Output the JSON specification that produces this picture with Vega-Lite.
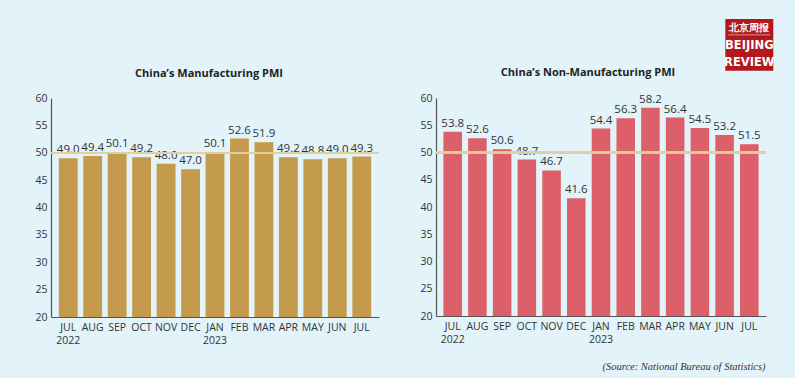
{
  "$schema": "https://vega.github.io/schema/vega-lite/v6.json",
  "background": "#e2f3fa",
  "padding": {"left": 34, "top": 18, "right": 20, "bottom": 5},
  "datasets": {
    "pmi": [
      {"label": "JUL|2022", "mfg": 49.0, "nonmfg": 53.8},
      {"label": "AUG", "mfg": 49.4, "nonmfg": 52.6},
      {"label": "SEP", "mfg": 50.1, "nonmfg": 50.6},
      {"label": "OCT", "mfg": 49.2, "nonmfg": 48.7},
      {"label": "NOV", "mfg": 48.0, "nonmfg": 46.7},
      {"label": "DEC", "mfg": 47.0, "nonmfg": 41.6},
      {"label": "JAN|2023", "mfg": 50.1, "nonmfg": 54.4},
      {"label": "FEB", "mfg": 52.6, "nonmfg": 56.3},
      {"label": "MAR", "mfg": 51.9, "nonmfg": 58.2},
      {"label": "APR", "mfg": 49.2, "nonmfg": 56.4},
      {"label": "MAY", "mfg": 48.8, "nonmfg": 54.5},
      {"label": "JUN", "mfg": 49.0, "nonmfg": 53.2},
      {"label": "JUL", "mfg": 49.3, "nonmfg": 51.5}
    ],
    "logo": [
      {"label": "JUL", "top": 74.5, "bottom": 65.0}
    ],
    "logoline": [
      {"label": "JUL", "pos": 71.6}
    ],
    "logotext": [
      {"label": "JUL", "t": "北京周报", "pos": 72.8, "kind": "cn"},
      {"label": "JUL", "t": "BEIJING", "pos": 69.8, "kind": "en"},
      {"label": "JUL", "t": "REVIEW", "pos": 66.6, "kind": "en"}
    ]
  },
  "config": {
    "view": {"stroke": null},
    "font": "Open Sans",
    "axis": {
      "labelFont": "Open Sans",
      "labelFontSize": 10.5,
      "labelColor": "#333333",
      "domainColor": "#555555",
      "domainWidth": 1.2,
      "ticks": false,
      "grid": false,
      "title": null,
      "labelOverlap": false
    },
    "axisY": {"values": [20, 25, 30, 35, 40, 45, 50, 55, 60], "labelPadding": 4},
    "axisX": {"labelAngle": 0, "labelExpr": "split(datum.label, '|')", "labelPadding": 5, "labelLineHeight": 13.5},
    "title": {"font": "Open Sans", "fontSize": 11, "fontWeight": "bold", "color": "#222222"}
  },
  "title": {
    "text": "(Source: National Bureau of Statistics)",
    "orient": "bottom",
    "anchor": "end",
    "font": "Liberation Serif",
    "fontStyle": "italic",
    "fontWeight": "normal",
    "fontSize": 10.5,
    "color": "#333333",
    "offset": 16,
    "dx": -9
  },
  "hconcat": [
    {
      "title": {"text": "China’s Manufacturing PMI", "offset": 14, "dx": -6},
      "width": 328,
      "height": 219,
      "data": {"name": "pmi"},
      "layer": [
        {
          "mark": {"type": "bar", "color": "#c49a4c"},
          "encoding": {
            "x": {"field": "label", "type": "nominal", "sort": null, "scale": {"paddingInner": 0.23, "paddingOuter": 0.32}},
            "y": {"field": "mfg", "type": "quantitative", "scale": {"domain": [20, 60], "nice": false, "zero": false}},
            "y2": {"datum": 20}
          }
        },
        {
          "mark": {"type": "text", "baseline": "bottom", "dy": -3, "fontSize": 11.5, "color": "#333333", "font": "Open Sans"},
          "encoding": {
            "x": {"field": "label", "type": "nominal", "sort": null},
            "y": {"field": "mfg", "type": "quantitative"},
            "text": {"field": "mfg", "type": "quantitative", "format": ".1f"}
          }
        },
        {
          "mark": {"type": "rule", "color": "#e2d09c", "strokeWidth": 1.3, "opacity": 0.75},
          "encoding": {"y": {"datum": 50, "type": "quantitative"}}
        }
      ]
    },
    {
      "title": {"text": "China’s Non-Manufacturing PMI", "offset": -59, "dx": -13},
      "width": 330,
      "height": 218,
      "layer": [
        {
          "data": {"name": "pmi"},
          "mark": {"type": "bar", "color": "#dc5f69"},
          "encoding": {
            "x": {"field": "label", "type": "nominal", "sort": null, "scale": {"paddingInner": 0.25, "paddingOuter": 0.3}},
            "y": {"field": "nonmfg", "type": "quantitative", "scale": {"domain": [20, 60], "nice": false, "zero": false}},
            "y2": {"datum": 20}
          }
        },
        {
          "data": {"name": "pmi"},
          "mark": {"type": "text", "baseline": "bottom", "dy": -3, "fontSize": 11.5, "color": "#333333", "font": "Open Sans"},
          "encoding": {
            "x": {"field": "label", "type": "nominal", "sort": null},
            "y": {"field": "nonmfg", "type": "quantitative"},
            "text": {"field": "nonmfg", "type": "quantitative", "format": ".1f"}
          }
        },
        {
          "data": {"name": "pmi"},
          "mark": {"type": "rule", "color": "#e2d09c", "strokeWidth": 1.3, "opacity": 0.75},
          "encoding": {"y": {"datum": 50, "type": "quantitative"}}
        },
        {
          "data": {"name": "logo"},
          "mark": {"type": "bar", "color": "#b3191c", "width": 48},
          "encoding": {
            "x": {"field": "label", "type": "nominal", "sort": null},
            "y": {"field": "top", "type": "quantitative"},
            "y2": {"field": "bottom"}
          }
        },
        {
          "data": {"name": "logoline"},
          "mark": {"type": "tick", "color": "white", "thickness": 0.8, "size": 42, "orient": "horizontal"},
          "encoding": {
            "x": {"field": "label", "type": "nominal", "sort": null},
            "y": {"field": "pos", "type": "quantitative"}
          }
        },
        {
          "data": {"name": "logotext"},
          "mark": {"type": "text", "color": "white", "baseline": "middle", "font": "DejaVu Sans Condensed", "fontWeight": "bold"},
          "encoding": {
            "x": {"field": "label", "type": "nominal", "sort": null},
            "y": {"field": "pos", "type": "quantitative"},
            "text": {"field": "t"},
            "size": {"field": "kind", "type": "nominal", "scale": {"domain": ["cn", "en"], "range": [9.5, 12.8]}, "legend": null}
          }
        }
      ]
    }
  ],
  "spacing": 39
}
